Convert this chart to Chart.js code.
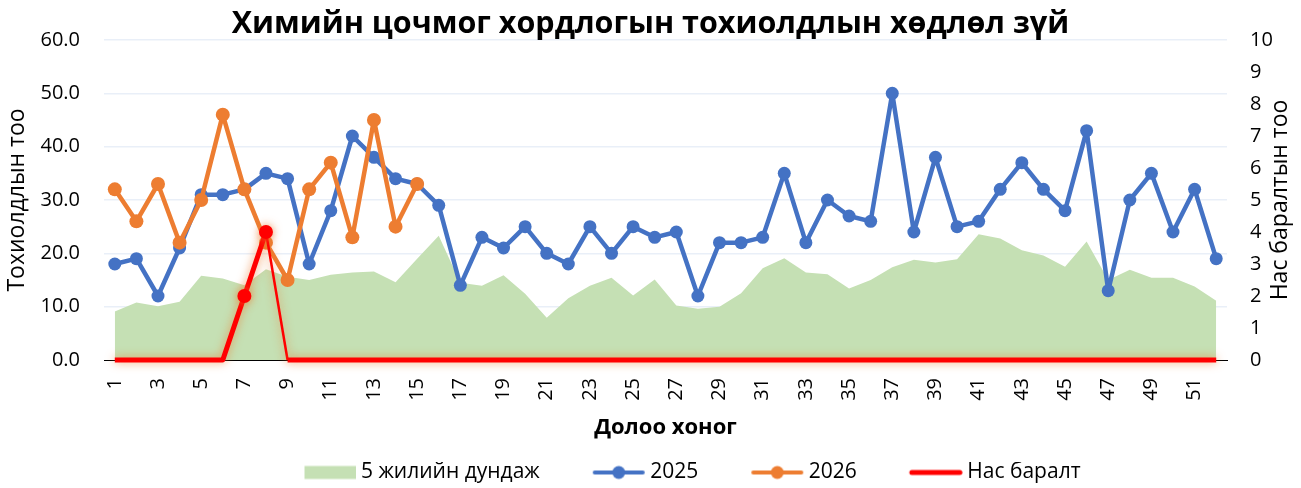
<!DOCTYPE html>
<html>
<head>
<meta charset="utf-8">
<script src="https://cdn.jsdelivr.net/npm/chart.js@4/dist/chart.umd.min.js"></script>
<style>
  body { margin: 0; background: #fff; }
  #wrap { width: 1301px; height: 488px; }
</style>
</head>
<body>
<div id="wrap"><canvas id="chart"></canvas></div>
<script>
// Data
const weeks = ['1', '2', '3', '4', '5', '6', '7', '8', '9', '10', '11', '12', '13',
    '14', '15', '16', '17', '18', '19', '20', '21', '22', '23', '24', '25', '26',
    '27', '28', '29', '30', '31', '32', '33', '34', '35', '36', '37', '38', '39',
    '40', '41', '42', '43', '44', '45', '46', '47', '48', '49', '50', '51', '52'];
const avg5 = [9.1, 10.8, 10.1, 10.9, 15.8, 15.3, 14, 17, 15.6, 15, 16, 16.4, 16.6,
    14.6, 19, 23.3, 14.5, 13.9, 15.9, 12.4, 7.9, 11.6, 13.9, 15.4, 12.1, 15.1,
    10.2, 9.6, 10, 12.5, 17.2, 19.1, 16.4, 16.1, 13.4, 15, 17.4, 18.8, 18.3,
    18.9, 23.6, 22.8, 20.6, 19.6, 17.5, 22.2, 15, 16.9, 15.4, 15.4, 13.8, 11.1];
const cases2025 = [18, 19, 12, 21, 31, 31, 32, 35, 34, 18, 28, 42, 38,
    34, 33, 29, 14, 23, 21, 25, 20, 18, 25, 20, 25, 23,
    24, 12, 22, 22, 23, 35, 22, 30, 27, 26, 50, 24, 38,
    25, 26, 32, 37, 32, 28, 43, 13, 30, 35, 24, 32, 19];
const cases2026 = [32, 26, 33, 22, 30, 46, 32, 22, 15, 32, 37, 23, 45, 25, 33];
const deaths = [0, 0, 0, 0, 0, 0, 2, 4, 0, 0, 0, 0, 0,
    0, 0, 0, 0, 0, 0, 0, 0, 0, 0, 0, 0, 0,
    0, 0, 0, 0, 0, 0, 0, 0, 0, 0, 0, 0, 0,
    0, 0, 0, 0, 0, 0, 0, 0, 0, 0, 0, 0, 0];
const leftTicks = [0, 10, 20, 30, 40, 50, 60];
const rightTicks = [0, 10];

const GREEN = '#c5e0b4';
const BLUE = '#4472c4';
const ORANGE = '#ed7d31';
const RED = '#ff0000';

Chart.defaults.font.family = '"Open Sans", sans-serif';
Chart.defaults.color = '#000';

// legend icons: transparent space on the left gives the gap between items
function legendIcon(draw) {
    const c = document.createElement('canvas');
    c.width = 112;
    c.height = 16;
    draw(c.getContext('2d'));
    return c;
}
const iconArea = legendIcon(ctx => {
    ctx.fillStyle = GREEN;
    ctx.fillRect(60, 1.5, 52, 13);
});
function lineIcon(color, withDot, width) {
    return legendIcon(ctx => {
        ctx.strokeStyle = color;
        ctx.lineWidth = width;
        ctx.lineCap = 'round';
        ctx.beginPath();
        ctx.moveTo(61, 8);
        ctx.lineTo(109, 8);
        ctx.stroke();
        if (withDot) {
            ctx.fillStyle = color;
            ctx.beginPath();
            ctx.arc(85, 8, 6.5, 0, Math.PI * 2);
            ctx.fill();
        }
    });
}
const icons = [iconArea, lineIcon(BLUE, true, 4), lineIcon(ORANGE, true, 4), lineIcon(RED, false, 5)];

// glow under the deaths line
const deathGlow = {
    id: 'deathGlow',
    beforeDatasetDraw(chart, args) {
        if (args.index === 3) {
            chart.ctx.save();
            chart.ctx.shadowColor = 'rgba(237, 125, 49, 0.75)';
            chart.ctx.shadowBlur = 10;
        }
    },
    afterDatasetDraw(chart, args) {
        if (args.index === 3) chart.ctx.restore();
    }
};

// right axis title, reading bottom to top
const rightTitle = {
    id: 'rightTitle',
    afterDraw(chart) {
        const {ctx, chartArea} = chart;
        ctx.save();
        ctx.translate(chartArea.right + 53, (chartArea.top + chartArea.bottom) / 2);
        ctx.rotate(-Math.PI / 2);
        ctx.font = '23px "Open Sans"';
        ctx.fillStyle = '#000';
        ctx.textAlign = 'center';
        ctx.textBaseline = 'middle';
        ctx.fillText('Нас баралтын тоо', 0, 0);
        ctx.restore();
    }
};

const el = document.getElementById('chart');
const chart = new Chart(el, {
    type: 'line',
    data: {
        labels: weeks,
        datasets: [{
            label: '5 жилийн дундаж',
            data: avg5,
            fill: 'origin',
            backgroundColor: GREEN,
            borderWidth: 0,
            pointRadius: 0,
            order: 4,
            yAxisID: 'y'
        }, {
            label: '2025',
            data: cases2025,
            borderColor: BLUE,
            backgroundColor: BLUE,
            borderWidth: 4.5,
            borderJoinStyle: 'round',
            pointRadius: 6.5,
            pointBorderWidth: 0,
            order: 3,
            clip: false,
            yAxisID: 'y'
        }, {
            label: '2026',
            data: cases2026,
            borderColor: ORANGE,
            backgroundColor: ORANGE,
            borderWidth: 4.5,
            borderJoinStyle: 'round',
            pointRadius: 7,
            pointBorderWidth: 0,
            order: 2,
            clip: false,
            yAxisID: 'y'
        }, {
            label: 'Нас баралт',
            data: deaths,
            borderColor: RED,
            backgroundColor: RED,
            borderWidth: 5,
            borderJoinStyle: 'round',
            pointRadius: c => (c.raw > 0 ? 7 : 0),
            pointBorderWidth: 0,
            segment: {
                borderWidth: c => (c.p0DataIndex === 7 ? 2.5 : 5)
            },
            order: 1,
            clip: false,
            yAxisID: 'y1'
        }]
    },
    options: {
        responsive: true,
        maintainAspectRatio: false,
        animation: false,
        layout: {
            padding: {left: 0, right: 0, top: 0, bottom: -5}
        },
        plugins: {
            title: {
                display: true,
                text: 'Химийн цочмог хордлогын тохиолдлын хөдлөл зүй',
                font: {size: 30.5, weight: 'bold', lineHeight: 1},
                color: '#000',
                padding: {top: 9.5, bottom: 0}
            },
            legend: {
                position: 'bottom',
                fullSize: false,
                labels: {
                    usePointStyle: true,
                    pointStyleWidth: 100,
                    padding: 0,
                    font: {size: 21},
                    color: '#000',
                    generateLabels: ch => ch.data.datasets.map((ds, i) => ({
                        text: ds.label,
                        pointStyle: icons[i],
                        fillStyle: 'transparent',
                        strokeStyle: 'transparent',
                        lineWidth: 0,
                        hidden: false,
                        datasetIndex: i
                    }))
                }
            },
            tooltip: {enabled: false}
        },
        scales: {
            x: {
                offset: true,
                grid: {display: false, drawTicks: false},
                border: {color: '#000', width: 1},
                ticks: {
                    autoSkip: false,
                    minRotation: 90,
                    maxRotation: 90,
                    padding: 18,
                    font: {size: 20},
                    callback: (v, i) => (i % 2 === 0 ? weeks[i] : '')
                },
                title: {
                    display: true,
                    text: 'Долоо хоног',
                    font: {size: 22, weight: 'bold'},
                    padding: {top: 4, bottom: 21}
                },
                afterFit: s => { s.height = 102; }
            },
            y: {
                position: 'left',
                min: leftTicks[0],
                max: leftTicks[leftTicks.length - 1],
                grid: {
                    drawTicks: false,
                    lineWidth: 1.5,
                    color: c => (c.tick && c.tick.value === 0 ? 'rgba(0,0,0,0)' : '#e9eff8')
                },
                border: {display: false},
                ticks: {
                    stepSize: 10,
                    padding: 24,
                    font: {size: 20},
                    callback: v => v.toFixed(1)
                },
                title: {
                    display: true,
                    text: 'Тохиолдлын тоо',
                    font: {size: 23},
                    padding: {top: 4, bottom: 0}
                },
                afterFit: s => { s.width = 104; }
            },
            y1: {
                position: 'right',
                min: rightTicks[0],
                max: rightTicks[1],
                grid: {display: false, drawTicks: false},
                border: {display: false},
                ticks: {
                    stepSize: 1,
                    padding: 23,
                    font: {size: 20}
                },
                afterFit: s => { s.width = 74; }
            }
        }
    },
    plugins: [deathGlow, rightTitle]
});
</script>
</body>
</html>
